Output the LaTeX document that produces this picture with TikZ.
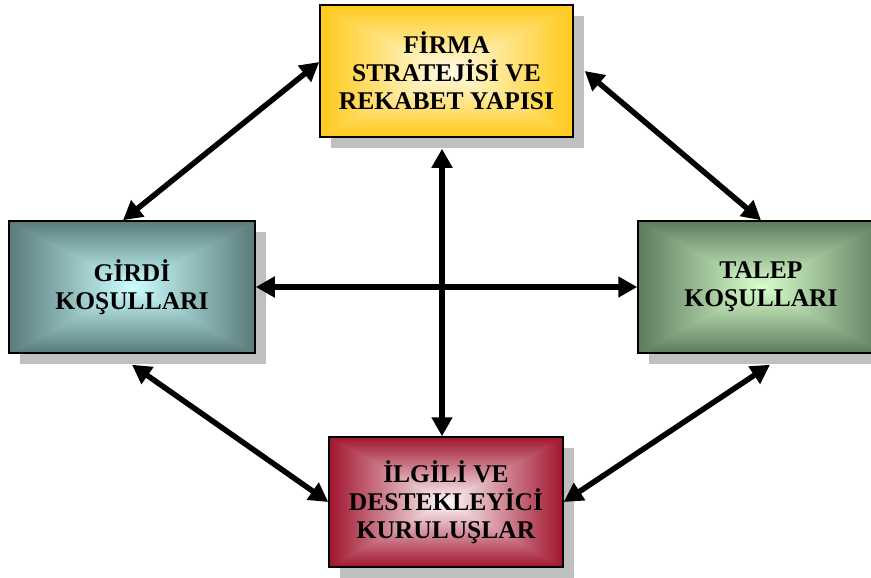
\documentclass[tikz,border=0pt]{standalone}
\usepackage{fontspec}
\setmainfont{Liberation Serif}
\usetikzlibrary{arrows.meta,shadows}

% box shading: light centre, darker edges (centre r g b, change r g b)
\newcommand{\kutushading}[7]{%
  \pgfdeclarefunctionalshading{#1}{\pgfpoint{-50bp}{-50bp}}{\pgfpoint{50bp}{50bp}}{}{%
    abs exch abs 2 copy lt {exch} if pop 25 div
    dup 1 gt {pop 1} if
    dup #5 mul #2 add
    1 index #6 mul #3 add
    3 -1 roll #7 mul #4 add
  }}
\kutushading{firmarenk}{1.0}{0.99}{0.92}{0.0}{-0.20}{-0.82}
\kutushading{girdirenk}{0.80}{1.0}{1.0}{-0.45}{-0.52}{-0.52}
\kutushading{taleprenk}{0.85}{1.0}{0.80}{-0.48}{-0.52}{-0.43}
\kutushading{ilgilirenk}{1.0}{0.98}{0.98}{-0.37}{-0.90}{-0.80}

\begin{document}
\begin{tikzpicture}[x=1pt,y=-1pt,
    kutu/.style={draw, line width=1.5pt, shade, minimum height=132pt, align=center,
      font=\fontsize{25.5}{28}\selectfont\bfseries,
      drop shadow={shadow xshift=11pt, shadow yshift=-11pt, fill=gray!50, opacity=1}},
    ok/.style={line width=5.5pt, >={Triangle[length=19pt,width=20pt]}, <->}]
    \useasboundingbox (0,0) rectangle (871,578);
    \clip (0,0) rectangle (871,578);
    \node[kutu, shading=firmarenk, minimum width=253pt] (firma) at (446.5,71) {FİRMA\\STRATEJİSİ VE\\REKABET YAPISI};
    \node[kutu, shading=girdirenk, minimum width=246pt] (girdi) at (132,287) {GİRDİ\\KOŞULLARI};
    \node[kutu, shading=taleprenk, minimum width=246pt] (talep) at (761,287) {TALEP\\KOŞULLARI};
    \node[kutu, shading=ilgilirenk, minimum width=234pt, minimum height=130pt] (ilgili) at (446,502) {İLGİLİ VE\\DESTEKLEYİCİ\\KURULUŞLAR};
    \draw[ok] ([yshift=9pt]firma.west) -- ([xshift=-9pt]girdi.north);
    \draw[ok] ([xshift=11pt]firma.east) -- (talep.north);
    \draw[ok] ([yshift=-11pt]girdi.south) -- (ilgili.west);
    \draw[ok] ([shift={(9pt,-11pt)}]talep.south) -- (ilgili.east);
    \draw[ok] (girdi.east) -- (talep.west);
    \draw[ok] ([shift={(-4.5pt,-11pt)}]firma.south) -- ([xshift=-4pt]ilgili.north);
\end{tikzpicture}
\end{document}
